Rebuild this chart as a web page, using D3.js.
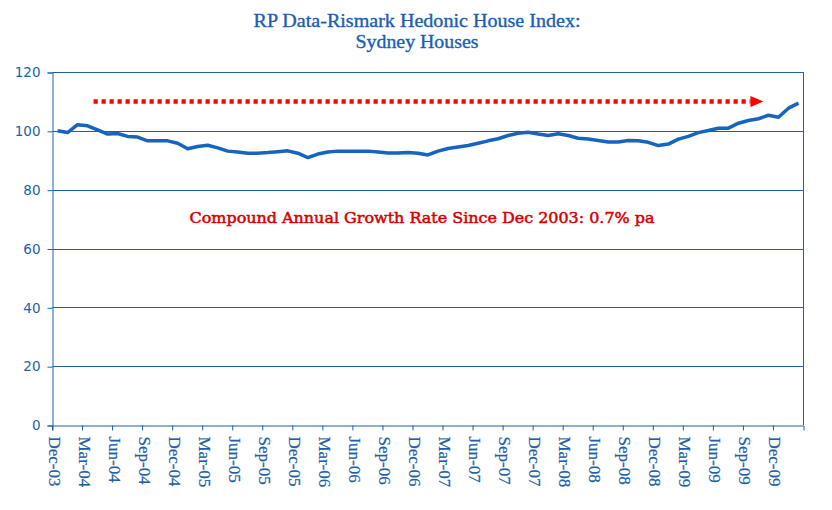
<!DOCTYPE html>
<html>
<head>
<meta charset="utf-8">
<script src="https://cdn.jsdelivr.net/npm/d3@7"></script>
<style>
  body { margin: 0; background: #fff; }
  svg { display: block; }
</style>
</head>
<body>
<svg id="chart" width="832" height="510"></svg>
<script>
// ---- data ----
const monthNames = ["Jan","Feb","Mar","Apr","May","Jun","Jul","Aug","Sep","Oct","Nov","Dec"];
// Monthly index values, Dec-03 .. Feb-10
const indexValues = [
  100.0, 99.4, 102.1, 101.7, 100.3, 98.9, 99.1, 98.1, 97.9, 96.6, 96.6, 96.6,
  95.8, 93.9, 94.7, 95.1, 94.2, 93.1, 92.8, 92.4, 92.4, 92.6, 92.9, 93.2,
  92.4, 90.9, 92.1, 92.8, 93.1, 93.1, 93.1, 93.1, 92.8, 92.5, 92.5, 92.6,
  92.4, 91.8, 93.1, 94.0, 94.5, 95.0, 95.8, 96.6, 97.3, 98.4, 99.2, 99.5,
  98.9, 98.4, 99.0, 98.4, 97.5, 97.2, 96.7, 96.2, 96.2, 96.7, 96.6, 96.1,
  95.0, 95.5, 97.2, 98.1, 99.4, 100.1, 100.9, 100.9, 102.6, 103.5, 104.1, 105.3,
  104.6, 107.7, 109.4
];
const months = indexValues.map((v, i) => {
  const m = (11 + i) % 12;
  const y = 3 + Math.floor((11 + i) / 12);
  return monthNames[m] + "-" + String(y).padStart(2, "0");
});
const yTicks = [0, 20, 40, 60, 80, 100, 120];
const titleLines = ["RP Data-Rismark Hedonic House Index:", "Sydney Houses"];
const annotation = "Compound Annual Growth Rate Since Dec 2003: 0.7% pa";
const arrowLevel = 110;
const arrowFrom = "Apr-04";
const arrowTo = "Oct-09";

// ---- layout ----
const svg = d3.select("#chart");
const m = { left: 52.5, right: 803.5, top: 72, bottom: 425 };
const blue = "#1f5fa6";
const lineBlue = "#1565c0";

const x = d3.scaleBand().domain(months).range([m.left, m.right]).paddingInner(0).paddingOuter(0);
const y = d3.scaleLinear().domain([0, 120]).range([m.bottom, m.top]);

// title
const titleLen = [327, 123];
svg.append("g").selectAll("text").data(titleLines).join("text")
  .attr("x", 417).attr("y", (d, i) => 27 + i * 21)
  .attr("text-anchor", "middle")
  .attr("font-family", "Liberation Serif, serif")
  .attr("font-size", 18)
  .attr("textLength", (d, i) => titleLen[i])
  .attr("lengthAdjust", "spacingAndGlyphs")
  .attr("fill", "#1a5fb4")
  .attr("stroke", "#1a5fb4")
  .attr("stroke-width", 0.35)
  .text(d => d);

// gridlines
svg.append("g").selectAll("line").data(yTicks.filter(t => t > 0)).join("line")
  .attr("x1", m.left).attr("x2", m.right)
  .attr("y1", d => Math.round(y(d)) + 0.5).attr("y2", d => Math.round(y(d)) + 0.5)
  .attr("stroke", blue).attr("stroke-width", 1);

// right border
svg.append("line")
  .attr("x1", m.right).attr("x2", m.right)
  .attr("y1", m.top).attr("y2", m.bottom)
  .attr("stroke", blue).attr("stroke-width", 1);

// y axis
const yAxis = d3.axisLeft(y).tickValues(yTicks).tickSize(5).tickPadding(7);
const gy = svg.append("g").attr("transform", `translate(${m.left},0.5)`).call(yAxis);
gy.select(".domain").attr("stroke", blue);
gy.selectAll(".tick line").attr("stroke", blue);
gy.selectAll(".tick text")
  .attr("fill", blue)
  .attr("font-family", "DejaVu Sans, sans-serif")
  .attr("font-size", 13.5);

// x axis
const tickMonths = months.filter((d, i) => i % 3 === 0);
const xAxis = d3.axisBottom(x).tickValues(tickMonths).tickSize(5).tickPadding(0);
const gx = svg.append("g").attr("transform", `translate(0,${m.bottom + 0.5})`).call(xAxis);
gx.select(".domain").attr("stroke", blue);
gx.selectAll(".tick").attr("transform", d => `translate(${x(d)},0)`);
gx.selectAll(".tick line").attr("stroke", blue);
gx.selectAll(".tick text")
  .attr("fill", blue)
  .attr("stroke", blue)
  .attr("stroke-width", 0.2)
  .attr("font-family", "Liberation Serif, serif")
  .attr("font-size", 17)
  .attr("text-anchor", "start")
  .attr("dy", null)
  .attr("transform", "translate(-4,11) rotate(90)")
  .attr("x", 0).attr("y", 0);

// line
const line = d3.line()
  .x((d, i) => x(months[i]) + x.bandwidth() / 2)
  .y(d => y(d));
svg.append("path")
  .datum(indexValues)
  .attr("fill", "none")
  .attr("stroke", lineBlue)
  .attr("stroke-width", 3.5)
  .attr("stroke-linejoin", "round")
  .attr("d", line);

// dotted arrow
const ax1 = x(arrowFrom) + 1;
const tip = x(arrowTo) + x.bandwidth();
const ay = Math.round(y(arrowLevel)) + 0.5;
svg.append("line")
  .attr("x1", ax1).attr("x2", tip - 13)
  .attr("y1", ay).attr("y2", ay)
  .attr("stroke", "#ff0000")
  .attr("stroke-width", 4.5)
  .attr("stroke-dasharray", "4.2,3.8");
svg.append("path")
  .attr("d", `M${tip - 13},${ay - 5.5} L${tip},${ay} L${tip - 13},${ay + 5.5} Z`)
  .attr("fill", "#ff0000");

// annotation
svg.append("text")
  .attr("x", 422).attr("y", 223)
  .attr("text-anchor", "middle")
  .attr("font-family", "DejaVu Serif, serif")
  .attr("font-size", 15)
  .attr("textLength", 465)
  .attr("lengthAdjust", "spacingAndGlyphs")
  .attr("fill", "#d40000")
  .attr("stroke", "#d40000")
  .attr("stroke-width", 0.5)
  .text(annotation);
</script>
</body>
</html>
